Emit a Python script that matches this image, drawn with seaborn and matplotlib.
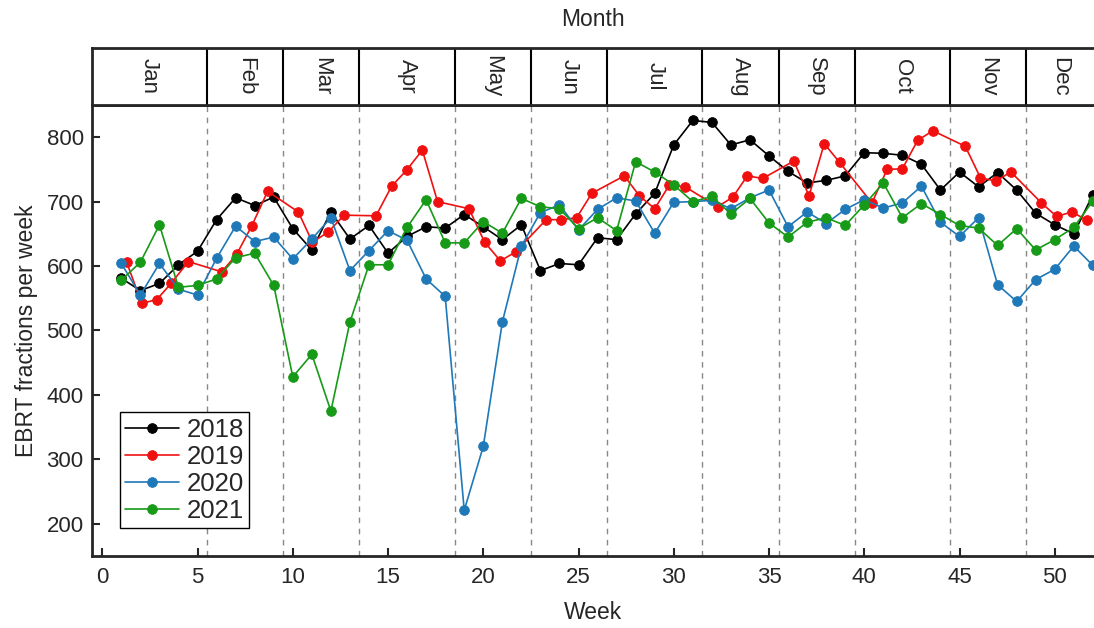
import numpy as np
import pandas as pd
import matplotlib
matplotlib.use("Agg")
import matplotlib.pyplot as plt
import seaborn as sns

# weekly EBRT fractions
weeks = list(range(1, 53))

y2018 = [581, 562, 573, 602, 623, 672, 706, 694, 707, 658,
         625, 684, 642, 663, 620, 646, 661, 659, 680, 661,
         641, 664, 593, 604, 602, 644, 641, 681, 713, 788,
         826, 823, 788, 796, 771, 747, 729, 733, 740, 776,
         775, 772, 758, 718, 746, 723, 745, 718, 682, 664,
         650, 711]

# 2019 is drawn at its own x positions (evenly spread inside each month)
x2019 = [1.28, 2.07, 2.86, 3.61, 4.52, 6.27, 7.05, 7.84, 8.68, 10.29,
         11.03, 11.87, 12.69, 14.37, 15.19, 15.98, 16.8, 17.6, 19.25, 20.07,
         20.9, 21.7, 23.3, 24.1, 24.9, 25.7, 27.4, 28.2, 29.0, 29.77,
         30.6, 32.3, 33.1, 33.86, 34.67, 36.3, 37.1, 37.9, 38.7, 40.4,
         41.2, 42.0, 42.8, 43.6, 45.3, 46.1, 46.9, 47.7, 49.3, 50.1,
         50.9, 51.7]
y2019 = [606, 542, 548, 573, 607, 591, 618, 662, 716, 684,
         637, 653, 679, 678, 724, 749, 780, 700, 689, 637,
         608, 622, 672, 672, 675, 713, 740, 709, 689, 726,
         723, 692, 707, 740, 736, 763, 709, 790, 761, 698,
         750, 751, 795, 810, 786, 737, 732, 746, 698, 677,
         684, 671]

y2020 = [604, 555, 604, 564, 555, 612, 662, 638, 645, 611,
         642, 675, 593, 624, 655, 640, 580, 553, 221, 320,
         513, 631, 683, 695, 656, 688, 706, 701, 651, 699,
         700, 702, 689, 706, 718, 661, 684, 666, 688, 703,
         690, 698, 724, 668, 646, 675, 571, 545, 579, 595,
         631, 601]

y2021 = [578, 606, 664, 567, 570, 580, 613, 620, 570, 428,
         463, 375, 513, 602, 602, 660, 703, 636, 636, 669,
         651, 705, 692, 689, 658, 675, 655, 762, 746, 726,
         700, 708, 681, 705, 667, 645, 668, 675, 663, 695,
         729, 675, 697, 680, 663, 659, 632, 658, 625, 641,
         660, 701]

months = ["Jan", "Feb", "Mar", "Apr", "May", "Jun",
          "Jul", "Aug", "Sep", "Oct", "Nov", "Dec"]
month_edges = [5.5, 9.5, 13.5, 18.5, 22.5, 26.5, 31.5, 35.5, 39.5, 44.5, 48.5]

sns.set_style("ticks")
plt.rcParams["font.family"] = ["Liberation Sans", "DejaVu Sans"]

xmin, xmax = -0.54, 52.06

fig = plt.figure(figsize=(10.94, 6.28), dpi=100)
ax = fig.add_axes([0.0841, 0.1147, 0.9159, 0.7181])
ax_m = fig.add_axes([0.0841, 0.8328, 0.9159, 0.0908])

series = [
    ("2018", weeks, y2018, "black"),
    ("2019", x2019, y2019, "#f01010"),
    ("2020", weeks, y2020, "#1f78b8"),
    ("2021", weeks, y2021, "#179a17"),
]
for label, xs, ys, col in series:
    df = pd.DataFrame({"week": xs, "value": ys})
    sns.lineplot(data=df, x="week", y="value", ax=ax, color=col, label=label,
                 marker="o", markersize=7, markeredgecolor=col,
                 markeredgewidth=0.6, linewidth=1.2)

for e in month_edges:
    ax.axvline(e, color="#888888", lw=1, ls=(0, (4, 4)), zorder=0)

ax.set_xlim(xmin, xmax)
ax.set_ylim(150, 850)
ax.set_xticks(range(0, 51, 5))
ax.set_yticks(range(200, 801, 100))
ax.tick_params(direction="in", length=6, width=1.5, labelsize=16)
ax.tick_params(axis="x", pad=8)
ax.tick_params(axis="y", pad=6)
ax.set_xlabel("Week", fontsize=16.5, labelpad=9)
ax.set_ylabel("EBRT fractions per week", fontsize=16.5, labelpad=6)
for s in ["left", "bottom", "top"]:
    ax.spines[s].set_linewidth(2)
ax.spines["right"].set_visible(False)

ax.legend(loc="lower left", bbox_to_anchor=(0.028, 0.062), fontsize=18.5,
          frameon=True, fancybox=False, edgecolor="black", framealpha=1,
          handlelength=2.1, borderpad=0.2, labelspacing=0.12,
          handletextpad=0.3, borderaxespad=0)
ax.get_legend().get_frame().set_linewidth(1)

# month strip on top
ax_m.set_xlim(xmin, xmax)
ax_m.set_ylim(0, 1)
ax_m.set_xticks([])
ax_m.set_yticks([])
for e in month_edges:
    ax_m.axvline(e, color="black", lw=1.5)
bounds = [xmin] + month_edges + [xmax]
for i, m in enumerate(months):
    ax_m.text((bounds[i] + bounds[i + 1]) / 2, 0.5, m, rotation=-90,
              ha="center", va="center", fontsize=16)
for s in ["left", "top", "bottom"]:
    ax_m.spines[s].set_linewidth(2)
ax_m.spines["right"].set_visible(False)
ax_m.set_title("Month", fontsize=16.5, pad=16)

fig.savefig("out.png", dpi=100)
